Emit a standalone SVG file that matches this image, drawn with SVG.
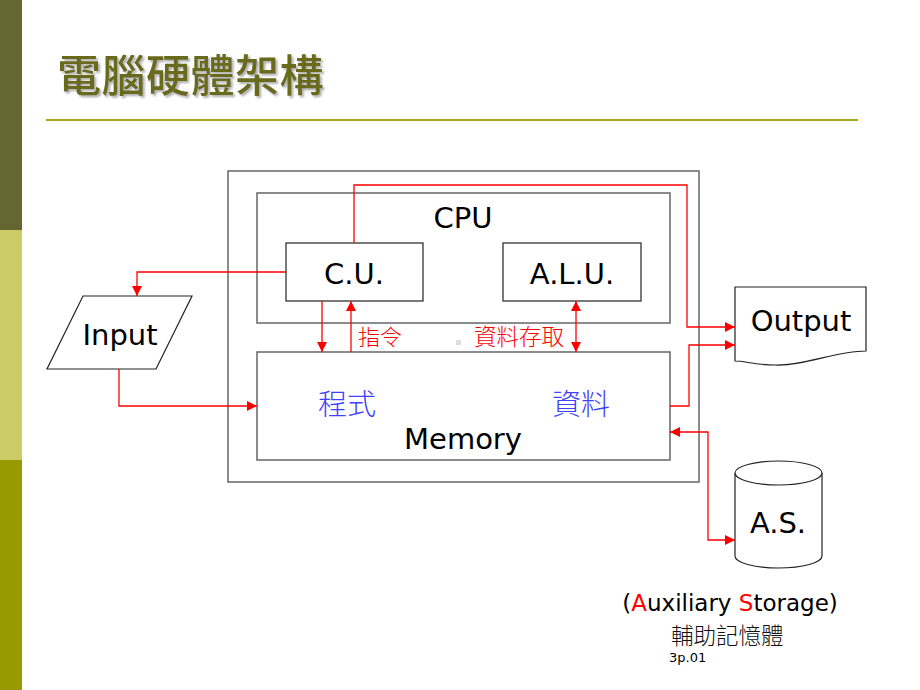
<svg xmlns="http://www.w3.org/2000/svg" width="920" height="690" viewBox="0 0 920 690">
<defs>
<style>
.lat{font-family:"DejaVu Sans","Liberation Sans",sans-serif;fill:#000}
.cjk{font-family:"Noto Sans CJK TC","Noto Sans CJK SC",sans-serif;font-weight:300}
.box{fill:#fff;stroke:#666;stroke-width:1.5}
.nb{fill:#fff;stroke:#222;stroke-width:1.2}
.con{fill:none;stroke:#ff0000;stroke-width:1.3}
</style>
<filter id="sh" x="-5%" y="-20%" width="110%" height="140%">
<feDropShadow dx="2" dy="2" stdDeviation="0.8" flood-color="#999" flood-opacity="0.8"/>
</filter>
<marker id="ah" viewBox="0 0 10 10" refX="10" refY="5" markerWidth="10" markerHeight="10" markerUnits="userSpaceOnUse" orient="auto-start-reverse">
<path d="M0,0 L10,5 L0,10 z" fill="#ff0000"/>
</marker>
</defs>
<rect width="920" height="690" fill="#fff"/>
<g id="sidebar">
<rect x="0" y="0" width="22" height="230" fill="#666633"/>
<rect x="0" y="230" width="22" height="230" fill="#cccc66"/>
<rect x="0" y="460" width="22" height="230" fill="#999900"/>
</g>
<g id="title">
<text x="57" y="92" font-family="'Noto Sans CJK TC','Noto Sans CJK SC',sans-serif" font-size="44" font-weight="500" fill="#6b6b1e" letter-spacing="0.5" filter="url(#sh)">電腦硬體架構</text>
<line x1="46" y1="120" x2="858" y2="120" stroke="#a8a820" stroke-width="2"/>
</g>
<g id="computer"><rect x="228" y="171" width="471" height="311" class="box"/></g>
<g id="cpu">
<rect x="257" y="193" width="413" height="130" class="box"/>
<text x="463" y="228" class="lat" font-size="29" text-anchor="middle">CPU</text>
</g>
<g id="cu">
<rect x="286" y="243" width="137" height="58" class="nb"/>
<text x="354" y="284" class="lat" font-size="29" text-anchor="middle">C.U.</text>
</g>
<g id="alu">
<rect x="503" y="243" width="138" height="58" class="nb"/>
<text x="572" y="284" class="lat" font-size="29" text-anchor="middle">A.L.U.</text>
</g>
<g id="memory">
<rect x="257" y="352" width="413" height="108" class="box"/>
<text x="347" y="415" class="cjk" font-size="29" fill="#4040ff" text-anchor="middle">程式</text>
<text x="581" y="415" class="cjk" font-size="29" fill="#4040ff" text-anchor="middle">資料</text>
<text x="463" y="449" class="lat" font-size="29" text-anchor="middle">Memory</text>
</g>
<g id="input">
<polygon points="83,296 192,296 156,369 47,369" class="nb"/>
<text x="120" y="345" class="lat" font-size="29" text-anchor="middle">Input</text>
</g>
<g id="output">
<path d="M735,287 L866,287 L866,351 C835,351 805,366 775,365 C755,365 745,361 735,361 Z" class="nb"/>
<text x="801" y="331" class="lat" font-size="29" text-anchor="middle">Output</text>
</g>
<g id="as">
<path d="M735,473 L735,556 A43.5,12 0 0 0 822,556 L822,473" class="nb"/>
<ellipse cx="778.5" cy="473" rx="43.5" ry="12" class="nb"/>
<text x="778" y="533" class="lat" font-size="29" text-anchor="middle">A.S.</text>
</g>
<g id="connectors">
<path d="M286,272 H137 V296" class="con" marker-end="url(#ah)"/>
<path d="M119,369 V406 H257" class="con" marker-end="url(#ah)"/>
<path d="M354,243 V185 H687 V327 H735" class="con" marker-end="url(#ah)"/>
<path d="M670,406 H689 V345 H735" class="con" marker-end="url(#ah)"/>
<path d="M670,432 H708 V540 H735" class="con" marker-start="url(#ah)" marker-end="url(#ah)"/>
<path d="M322,301 V352" class="con" marker-end="url(#ah)"/>
<path d="M351,352 V301" class="con" marker-end="url(#ah)"/>
<path d="M576,301 V352" class="con" marker-start="url(#ah)" marker-end="url(#ah)"/>
</g>
<g id="labels">
<text x="358" y="345" class="cjk" font-size="22" fill="#ff0000">指令</text>
<rect x="456" y="340" width="5" height="5" fill="#dddddd"/>
<text x="474" y="345" class="cjk" font-size="22.5" fill="#ff0000">資料存取</text>
<text x="730" y="611" class="lat" font-size="23" text-anchor="middle">(<tspan fill="#ff0000">A</tspan>uxiliary <tspan fill="#ff0000">S</tspan>torage)</text>
<text x="671" y="644" class="cjk" font-size="22.5" fill="#111">輔助記憶體</text>
<text x="669" y="662" class="lat" font-size="13">3p.01</text>
</g>
</svg>
